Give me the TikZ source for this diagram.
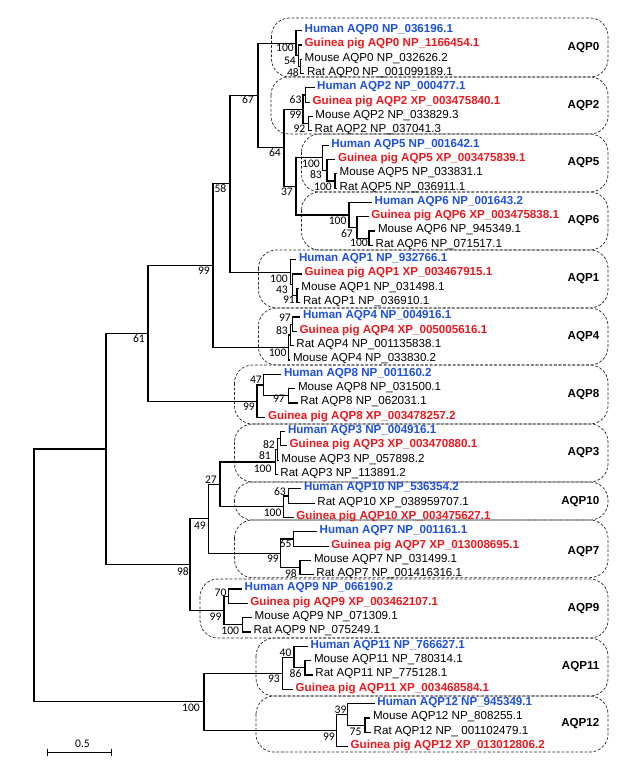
\documentclass[tikz,border=0pt]{standalone}
\usepackage{fontspec}
\setmainfont{Liberation Sans}
\newfontfamily\bsfont{Carlito}
\usetikzlibrary{arrows.meta}
\definecolor{humanblue}{RGB}{30,80,220}
\definecolor{gpred}{RGB}{235,25,30}
\newcommand{\leaffont}{\fontsize{11.6}{13}\selectfont}

\begin{document}
\begin{tikzpicture}[x=1pt, y=-14.32pt,
    branch/.style={line width=1.2pt},
    leaf/.style={anchor=west, inner xsep=2.5pt, inner ysep=0pt, text height=8.3pt, text depth=4.5pt, font=\leaffont},
    human/.style={leaf, text=humanblue, font=\leaffont\bfseries},
    guinea/.style={leaf, text=gpred, font=\leaffont\bfseries},
    boot/.style={anchor=east, inner sep=0pt, text height=7.3pt, text depth=0pt, font=\bsfont\leaffont},
    grpbox/.style={draw=black!85, line width=0.7pt, dash pattern=on 2.8pt off 1.8pt, rounded corners=18pt},
    grplabel/.style={anchor=east, inner sep=0pt, font=\leaffont\bfseries}]
  % canvas (x in px, y in leaf rows)
  \useasboundingbox (0,-2.137) rectangle (620,51.285);

  % group boxes
  \draw[grpbox] (271.5,-0.88) rectangle (608,3.24);
  \node[grplabel] (gaqp0) at (599.5,1.18) {AQP0};
  \draw[grpbox] (271,3.24) rectangle (608,7.22);
  \node[grplabel] (gaqp2) at (599.5,5.23) {AQP2};
  \draw[grpbox] (301.5,7.22) rectangle (608,11.27);
  \node[grplabel] (gaqp5) at (599.5,9.25) {AQP5};
  \draw[grpbox] (301.5,11.27) rectangle (608,15.32);
  \node[grplabel] (gaqp6) at (599.5,13.3) {AQP6};
  \draw[grpbox] (258.5,15.32) rectangle (608,19.37);
  \node[grplabel] (gaqp1) at (599.5,17.35) {AQP1};
  \draw[grpbox] (258.5,19.37) rectangle (608,23.35);
  \node[grplabel] (gaqp4) at (599.5,21.36) {AQP4};
  \draw[grpbox] (234.5,23.35) rectangle (608,27.47);
  \node[grplabel] (gaqp8) at (599.5,25.41) {AQP8};
  \draw[grpbox] (234.5,27.47) rectangle (608,31.52);
  \node[grplabel] (gaqp3) at (599.5,29.5) {AQP3};
  \draw[grpbox] (234.5,31.52) rectangle (608,34.18);
  \node[grplabel] (gaqp10) at (599.5,32.9) {AQP10};
  \draw[grpbox] (234.5,34.18) rectangle (608,38.2);
  \node[grplabel] (gaqp7) at (599.5,36.39) {AQP7};
  \draw[grpbox] (200,38.3) rectangle (608,42.42);
  \node[grplabel] (gaqp9) at (599.5,40.36) {AQP9};
  \draw[grpbox] (256,42.42) rectangle (608,46.47);
  \node[grplabel] (gaqp11) at (599.5,44.44) {AQP11};
  \draw[grpbox] (256,46.47) rectangle (608,50.38);
  \node[grplabel] (gaqp12) at (599.5,48.42) {AQP12};

  % leaves
  \node[human]  (a0h) at (302,0) {Human AQP0 NP\_036196.1};
  \node[guinea] (a0g) at (302,1) {Guinea pig AQP0 NP\_1166454.1};
  \node[leaf]   (a0m) at (302,2) {Mouse AQP0 NP\_032626.2};
  \node[leaf]   (a0r) at (304.3,3) {Rat AQP0 NP\_001099189.1};
  \node[human]  (a2h) at (314.5,4) {Human AQP2 NP\_000477.1};
  \node[guinea] (a2g) at (310,5) {Guinea pig AQP2 XP\_003475840.1};
  \node[leaf]   (a2m) at (312.7,6) {Mouse AQP2 NP\_033829.3};
  \node[leaf]   (a2r) at (312,7) {Rat AQP2 NP\_037041.3};
  \node[human]  (a5h) at (328.7,8) {Human AQP5 NP\_001642.1};
  \node[guinea] (a5g) at (335.3,9) {Guinea pig AQP5 XP\_003475839.1};
  \node[leaf]   (a5m) at (337,10) {Mouse AQP5 NP\_033831.1};
  \node[leaf]   (a5r) at (337,11) {Rat AQP5 NP\_036911.1};
  \node[human]  (a6h) at (372,12) {Human AQP6 NP\_001643.2};
  \node[guinea] (a6g) at (368.7,13) {Guinea pig AQP6 XP\_003475838.1};
  \node[leaf]   (a6m) at (375.3,14) {Mouse AQP6 NP\_945349.1};
  \node[leaf]   (a6r) at (373,15) {Rat AQP6 NP\_071517.1};
  \node[human]  (a1h) at (296.3,16) {Human AQP1 NP\_932766.1};
  \node[guinea] (a1g) at (302,17) {Guinea pig AQP1 XP\_003467915.1};
  \node[leaf]   (a1m) at (298.7,18) {Mouse AQP1 NP\_031498.1};
  \node[leaf]   (a1r) at (300.3,19) {Rat AQP1 NP\_036910.1};
  \node[human]  (a4h) at (300.3,20) {Human AQP4 NP\_004916.1};
  \node[guinea] (a4g) at (297,21) {Guinea pig AQP4 XP\_005005616.1};
  \node[leaf]   (a4r) at (293.7,22) {Rat AQP4 NP\_001135838.1};
  \node[leaf]   (a4m) at (290.3,23) {Mouse AQP4 NP\_033830.2};
  \node[human]  (a8h) at (281.3,24) {Human AQP8 NP\_001160.2};
  \node[leaf]   (a8m) at (295.3,25) {Mouse AQP8 NP\_031500.1};
  \node[leaf]   (a8r) at (297.7,26) {Rat AQP8 NP\_062031.1};
  \node[guinea] (a8g) at (265.3,27) {Guinea pig AQP8 XP\_003478257.2};
  \node[human]  (a3h) at (285.3,28) {Human AQP3 NP\_004916.1};
  \node[guinea] (a3g) at (287,29) {Guinea pig AQP3 XP\_003470880.1};
  \node[leaf]   (a3m) at (278.7,30) {Mouse AQP3 NP\_057898.2};
  \node[leaf]   (a3r) at (277.7,31) {Rat AQP3 NP\_113891.2};
  \node[human]  (a10h) at (301.3,32) {Human AQP10 NP\_536354.2};
  \node[leaf]   (a10r) at (314.7,33) {Rat AQP10 XP\_038959707.1};
  \node[guinea] (a10g) at (293.7,34) {Guinea pig AQP10 XP\_003475627.1};
  \node[human]  (a7h) at (317,35) {Human AQP7 NP\_001161.1};
  \node[guinea] (a7g) at (328.7,36) {Guinea pig AQP7 XP\_013008695.1};
  \node[leaf]   (a7m) at (311.3,37) {Mouse AQP7 NP\_031499.1};
  \node[leaf]   (a7r) at (313.7,38) {Rat AQP7 NP\_001416316.1};
  \node[human]  (a9h) at (242,39) {Human AQP9 NP\_066190.2};
  \node[guinea] (a9g) at (247.7,40) {Guinea pig AQP9 XP\_003462107.1};
  \node[leaf]   (a9m) at (252,41) {Mouse AQP9 NP\_071309.1};
  \node[leaf]   (a9r) at (251,42) {Rat AQP9 NP\_075249.1};
  \node[human]  (a11h) at (308,43) {Human AQP11 NP\_766627.1};
  \node[leaf]   (a11m) at (311.3,44) {Mouse AQP11 NP\_780314.1};
  \node[leaf]   (a11r) at (312.7,45) {Rat AQP11 NP\_775128.1};
  \node[guinea] (a11g) at (293,46) {Guinea pig AQP11 XP\_003468584.1};
  \node[human]  (a12h) at (374.7,47) {Human AQP12 NP\_945349.1};
  \node[leaf]   (a12m) at (370.3,48) {Mouse AQP12 NP\_808255.1};
  \node[leaf]   (a12r) at (371,49) {Rat AQP12 NP\_ 001102479.1};
  \node[guinea] (a12g) at (348,50) {Guinea pig AQP12 XP\_013012806.2};

  % inner nodes of the groups
  \coordinate (r0) at (296,0.875);   \coordinate (gmr0) at (298.3,1.75); \coordinate (mr0) at (300.5,2.5);
  \coordinate (r2) at (303,5.5);     \coordinate (hg2) at (305.5,4.5);   \coordinate (mr2) at (308.5,6.5);
  \coordinate (r5) at (322.7,8.875); \coordinate (gmr5) at (327,9.75);   \coordinate (mr5) at (335,10.5);
  \coordinate (r6) at (349,12.875);  \coordinate (gmr6) at (357,13.75);  \coordinate (mr6) at (369,14.5);
  \coordinate (r1) at (290.7,16.875);\coordinate (gmr1) at (292.5,17.75);\coordinate (mr1) at (297,18.5);
  \coordinate (r4) at (288.3,22.125);\coordinate (hgr4) at (290.5,21.25);\coordinate (hg4) at (292.7,20.5);
  \coordinate (r8) at (257,25.875);  \coordinate (hmr8) at (263.3,24.75);\coordinate (mr8) at (288.3,25.5);
  \coordinate (r3) at (275.5,30.125);\coordinate (hgm3) at (277.5,29.25);\coordinate (hg3) at (280.5,28.5);
  \coordinate (r10) at (283.3,33.25);\coordinate (hr10) at (288.5,32.5);
  \coordinate (r7) at (280.7,36.5);  \coordinate (hg7) at (293.5,35.5);  \coordinate (mr7) at (300,37.5);
  \coordinate (r9) at (224,40.5);    \coordinate (hg9) at (228.3,39.5);  \coordinate (mr9) at (242.7,41.5);
  \coordinate (r11) at (282.7,44.875);\coordinate (hmr11) at (294,43.75);\coordinate (mr11) at (305,44.5);
  \coordinate (r12) at (336.7,48.875);\coordinate (hmr12) at (347.7,47.75);\coordinate (mr12) at (365,48.5);
  % backbone
  \coordinate (n37) at (296,10.875);
  \coordinate (n64) at (284,8.1875);
  \coordinate (n67) at (258,4.53);
  \coordinate (n58) at (230,10.70);
  \coordinate (n99) at (213,16.41);
  \coordinate (n61) at (148,21.14);
  \coordinate (n27) at (220,31.69);
  \coordinate (n49) at (208.3,34.09);
  \coordinate (n98) at (190,37.30);
  \coordinate (nup) at (106,29.22);
  \coordinate (nlow) at (204,46.875);
  \coordinate (root) at (34,38.05);

  % branches
  \draw[branch] (r0) |- (a0h.west) (r0) |- (gmr0) (gmr0) |- (a0g.west)
    (gmr0) |- (mr0) (mr0) |- (a0m.west) (mr0) |- (a0r.west);
  \draw[branch] (r2) |- (hg2) (r2) |- (mr2) (hg2) |- (a2h.west) (hg2) |- (a2g.west)
    (mr2) |- (a2m.west) (mr2) |- (a2r.west);
  \draw[branch] (r5) |- (a5h.west) (r5) |- (gmr5) (gmr5) |- (a5g.west)
    (gmr5) |- (mr5) (mr5) |- (a5m.west) (mr5) |- (a5r.west);
  \draw[branch] (r6) |- (a6h.west) (r6) |- (gmr6) (gmr6) |- (a6g.west)
    (gmr6) |- (mr6) (mr6) |- (a6m.west) (mr6) |- (a6r.west);
  \draw[branch] (r1) |- (a1h.west) (r1) |- (gmr1) (gmr1) |- (a1g.west)
    (gmr1) |- (mr1) (mr1) |- (a1m.west) (mr1) |- (a1r.west);
  \draw[branch] (r4) |- (hgr4) (r4) |- (a4m.west) (hgr4) |- (hg4) (hgr4) |- (a4r.west)
    (hg4) |- (a4h.west) (hg4) |- (a4g.west);
  \draw[branch] (r8) |- (hmr8) (r8) |- (a8g.west) (hmr8) |- (a8h.west) (hmr8) |- (mr8)
    (mr8) |- (a8m.west) (mr8) |- (a8r.west);
  \draw[branch] (r3) |- (hgm3) (r3) |- (a3r.west) (hgm3) |- (hg3) (hgm3) |- (a3m.west)
    (hg3) |- (a3h.west) (hg3) |- (a3g.west);
  \draw[branch] (r10) |- (hr10) (r10) |- (a10g.west) (hr10) |- (a10h.west) (hr10) |- (a10r.west);
  \draw[branch] (r7) |- (hg7) (r7) |- (mr7) (hg7) |- (a7h.west) (hg7) |- (a7g.west)
    (mr7) |- (a7m.west) (mr7) |- (a7r.west);
  \draw[branch] (r9) |- (hg9) (r9) |- (mr9) (hg9) |- (a9h.west) (hg9) |- (a9g.west)
    (mr9) |- (a9m.west) (mr9) |- (a9r.west);
  \draw[branch] (r11) |- (hmr11) (r11) |- (a11g.west) (hmr11) |- (a11h.west) (hmr11) |- (mr11)
    (mr11) |- (a11m.west) (mr11) |- (a11r.west);
  \draw[branch] (r12) |- (hmr12) (r12) |- (a12g.west) (hmr12) |- (a12h.west) (hmr12) |- (mr12)
    (mr12) |- (a12m.west) (mr12) |- (a12r.west);
  % backbone branches
  \draw[branch] (n37) |- (r5) (n37) |- (r6) (n64) |- (r2) (n64) |- (n37)
    (n67) |- (r0) (n67) |- (n64) (n58) |- (n67) (n58) |- (r1)
    (n99) |- (n58) (n99) |- (r4) (n61) |- (n99) (n61) |- (r8)
    (n27) |- (r3) (n27) |- (r10) (n49) |- (n27) (n49) |- (r7)
    (n98) |- (n49) (n98) |- (r9) (nup) |- (n61) (nup) |- (n98)
    (nlow) |- (r11) (nlow) |- (r12) (root) |- (nup) (root) |- (nlow);

  % bootstrap values
  \node[boot] (b0a) at (294,1.236) {100};
  \node[boot] (b0b) at (296,2.08) {54};
  \node[boot] (b0c) at (299,2.93) {48};
  \node[boot] (b2a) at (301.7,4.85) {63};
  \node[boot] (b2b) at (301.5,5.86) {99};
  \node[boot] (b2c) at (305.5,6.84) {92};
  \node[boot] (b67) at (254,4.85) {67};
  \node[boot] (b64) at (281,8.57) {64};
  \node[boot] (b37) at (293,11.27) {37};
  \node[boot] (b5a) at (320,9.27) {100};
  \node[boot] (b5b) at (322,10.08) {83};
  \node[boot] (b5c) at (332,10.92) {100};
  \node[boot] (b6a) at (346.7,13.3) {100};
  \node[boot] (b6b) at (353,14.22) {67};
  \node[boot] (b6c) at (368,14.85) {100};
  \node[boot] (b58) at (226.5,11.06) {58};
  \node[boot] (b99) at (210,16.79) {99};
  \node[boot] (b61) at (145,21.54) {61};
  \node[boot] (b1a) at (288,17.35) {100};
  \node[boot] (b1b) at (288,18.07) {43};
  \node[boot] (b1c) at (295,18.81) {91};
  \node[boot] (b4a) at (291,20.03) {97};
  \node[boot] (b4b) at (288,20.98) {83};
  \node[boot] (b4c) at (286.7,22.53) {100};
  \node[boot] (b8a) at (262,24.4) {47};
  \node[boot] (b8b) at (285,25.73) {97};
  \node[boot] (b8c) at (255,26.28) {99};
  \node[boot] (b3a) at (275,28.94) {82};
  \node[boot] (b3b) at (271,29.69) {81};
  \node[boot] (b3c) at (271.7,30.57) {100};
  \node[boot] (b27) at (217,31.38) {27};
  \node[boot] (b10a) at (286,32.24) {63};
  \node[boot] (b10b) at (281.7,33.71) {100};
  \node[boot] (b49) at (206,34.57) {49};
  \node[boot] (b7a) at (291.7,35.87) {65};
  \node[boot] (b7b) at (279,36.9) {99};
  \node[boot] (b7c) at (297,37.95) {98};
  \node[boot] (b98) at (189,37.81) {98};
  \node[boot] (b9a) at (226.7,39.25) {70};
  \node[boot] (b9b) at (221.7,40.93) {99};
  \node[boot] (b9c) at (239.3,41.93) {100};
  \node[boot] (b11a) at (291.7,43.42) {40};
  \node[boot] (b11b) at (301.7,44.95) {86};
  \node[boot] (b11c) at (280,45.28) {93};
  \node[boot] (b100) at (200,47.32) {100};
  \node[boot] (b12a) at (346.7,47.44) {39};
  \node[boot] (b12b) at (361.7,49.0) {75};
  \node[boot] (b12c) at (335,49.35) {99};

  % scale bar
  \coordinate (sbl) at (46.7,50.42);
  \coordinate (sbr) at (112,50.42);
  \draw[line width=1.2pt, {Bar[width=7pt]}-{Bar[width=7pt]}] (sbl) -- (sbr);
  \node[font=\bsfont\leaffont, inner sep=0pt] (sblab) at (82.5,49.77) {0.5};
\end{tikzpicture}
\end{document}
